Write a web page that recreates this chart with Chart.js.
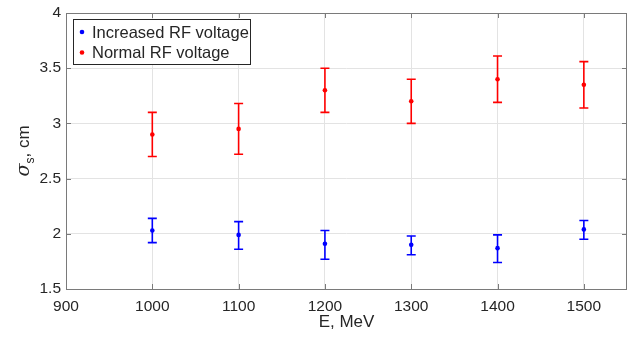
<!DOCTYPE html>
<html>
<head>
<meta charset="utf-8">
<script src="https://cdn.jsdelivr.net/npm/chart.js@4.4.0/dist/chart.umd.min.js"></script>
<style>
html,body{margin:0;padding:0;background:#fff;}
#wrap{width:628px;height:340px;position:relative;}
</style>
</head>
<body>
<div id="wrap"><canvas id="c" width="628" height="340"></canvas></div>
<script>
// ---- data ----
const energies = [1000, 1100, 1200, 1300, 1400, 1500];
const increasedSigma = [2.03, 1.99, 1.91, 1.90, 1.87, 2.04];
const increasedLow   = [1.92, 1.86, 1.77, 1.81, 1.74, 1.95];
const increasedHigh  = [2.14, 2.11, 2.03, 1.98, 1.99, 2.12];
const normalSigma = [2.90, 2.95, 3.30, 3.20, 3.40, 3.35];
const normalLow   = [2.70, 2.72, 3.10, 3.00, 3.19, 3.14];
const normalHigh  = [3.10, 3.18, 3.50, 3.40, 3.61, 3.56];
const xTicks = [900, 1000, 1100, 1200, 1300, 1400, 1500];
const yTicks = [1.5, 2, 2.5, 3, 3.5, 4];
const seriesNames = ['Increased RF voltage', 'Normal RF voltage'];
const xTitle = 'E, MeV';

const FONT = '"Liberation Sans", Arial, sans-serif';
const TXT = '#262626';
const AX = '#7a7a7a';

function pts(xs, ys){ return xs.map((x,i)=>({x:x, y:ys[i]})); }

const errorBars = {
  id:'errorBars',
  beforeDatasetsDraw(chart){
    const ctx = chart.ctx, xs = chart.scales.x, ys = chart.scales.y;
    chart.data.datasets.forEach(ds=>{
      ctx.save();
      ctx.strokeStyle = ds.borderColor;
      ctx.lineWidth = 1.6;
      ds.data.forEach((p,i)=>{
        const px = xs.getPixelForValue(p.x);
        const lo = ys.getPixelForValue(ds.errLow[i]);
        const hi = ys.getPixelForValue(ds.errHigh[i]);
        ctx.beginPath();
        ctx.moveTo(px, lo); ctx.lineTo(px, hi);
        ctx.moveTo(px-4.5, lo); ctx.lineTo(px+4.5, lo);
        ctx.moveTo(px-4.5, hi); ctx.lineTo(px+4.5, hi);
        ctx.stroke();
      });
      ctx.restore();
    });
  }
};

const frameAndText = {
  id:'frameAndText',
  afterDraw(chart){
    const ctx = chart.ctx, a = chart.chartArea;
    const xs = chart.scales.x, ys = chart.scales.y;
    ctx.save();
    // frame
    ctx.strokeStyle = AX; ctx.lineWidth = 1;
    ctx.strokeRect(Math.round(a.left)+0.5, Math.round(a.top)+0.5, Math.round(a.right-a.left)-1, Math.round(a.bottom-a.top));
    // inner ticks
    const tl = 5;
    ctx.beginPath();
    xTicks.forEach(v=>{
      const px = Math.round(xs.getPixelForValue(v))+0.5;
      ctx.moveTo(px, a.bottom); ctx.lineTo(px, a.bottom-tl);
      ctx.moveTo(px, a.top); ctx.lineTo(px, a.top+tl);
    });
    yTicks.forEach(v=>{
      const py = Math.round(ys.getPixelForValue(v))+0.5;
      ctx.moveTo(a.left, py); ctx.lineTo(a.left+tl, py);
      ctx.moveTo(a.right, py); ctx.lineTo(a.right-tl, py);
    });
    ctx.stroke();

    // legend
    const lx = 73.5, ly = 19.5, lw = 177, lh = 45;
    ctx.fillStyle = '#fff';
    ctx.fillRect(lx, ly, lw, lh);
    ctx.strokeStyle = '#262626'; ctx.lineWidth = 1;
    ctx.strokeRect(lx, ly, lw, lh);
    ctx.font = '16.5px ' + FONT;
    ctx.textBaseline = 'middle'; ctx.textAlign = 'left';
    chart.data.datasets.forEach((ds, i)=>{
      const cy = 32 + i*20.5;
      ctx.fillStyle = ds.backgroundColor;
      ctx.beginPath(); ctx.arc(82, cy, 2.3, 0, Math.PI*2); ctx.fill();
      ctx.fillStyle = TXT;
      ctx.fillText(seriesNames[i], 92, cy + 1);
    });

    // x title
    ctx.font = '17px ' + FONT;
    ctx.textAlign = 'center'; ctx.textBaseline = 'middle';
    ctx.fillStyle = TXT;
    ctx.fillText(xTitle, (a.left+a.right)/2, 322);

    // y title: sigma_s, cm
    ctx.translate(24, 151);
    ctx.rotate(-Math.PI/2);
    const f1 = 'italic 19px "DejaVu Serif", serif';
    const f2 = '12px ' + FONT;
    const f3 = '17px ' + FONT;
    ctx.font = f1; const w1 = ctx.measureText('σ').width;
    ctx.font = f2; const w2 = ctx.measureText('s').width;
    ctx.font = f3; const w3 = ctx.measureText(', cm').width;
    let x0 = -(w1+w2+w3)/2;
    ctx.textAlign = 'left'; ctx.textBaseline = 'alphabetic';
    ctx.font = f1; ctx.fillText('σ', x0, 5); x0 += w1;
    ctx.font = f2; ctx.fillText('s', x0, 10); x0 += w2;
    ctx.font = f3; ctx.fillText(', cm', x0, 5);
    ctx.restore();
  }
};

new Chart(document.getElementById('c'), {
  type:'scatter',
  data:{
    datasets:[
      { label:seriesNames[0], data:pts(energies, increasedSigma), errLow:increasedLow, errHigh:increasedHigh,
        backgroundColor:'#0000ff', borderColor:'#0000ff', pointRadius:2.3, pointBorderWidth:0 },
      { label:seriesNames[1], data:pts(energies, normalSigma), errLow:normalLow, errHigh:normalHigh,
        backgroundColor:'#ff0000', borderColor:'#ff0000', pointRadius:2.3, pointBorderWidth:0 }
    ]
  },
  options:{
    responsive:false, animation:false,
    layout:{autoPadding:false, padding:{top:13, right:1, left:0, bottom:0}},
    plugins:{legend:{display:false}, tooltip:{enabled:false}},
    scales:{
      x:{
        type:'linear', min:900, max:1550,
        afterBuildTicks(s){ s.ticks = xTicks.map(v=>({value:v})); },
        afterFit(s){ s.height = 51; s.paddingLeft = 0; s.paddingRight = 0; },
        grid:{color:'#e3e3e3', drawTicks:false},
        border:{display:false},
        ticks:{color:TXT, font:{family:FONT, size:15.5}, padding:8, maxRotation:0, autoSkip:false,
               callback:v=>String(v)}
      },
      y:{
        type:'linear', min:1.5, max:4,
        afterBuildTicks(s){ s.ticks = yTicks.map(v=>({value:v})); },
        afterFit(s){ s.width = 66; s.paddingTop = 0; s.paddingBottom = 0; },
        grid:{color:'#e3e3e3', drawTicks:false},
        border:{display:false},
        ticks:{color:TXT, font:{family:FONT, size:15.5}, padding:5, autoSkip:false,
               callback:v=>String(v)}
      }
    }
  },
  plugins:[errorBars, frameAndText]
});
</script>
</body>
</html>
